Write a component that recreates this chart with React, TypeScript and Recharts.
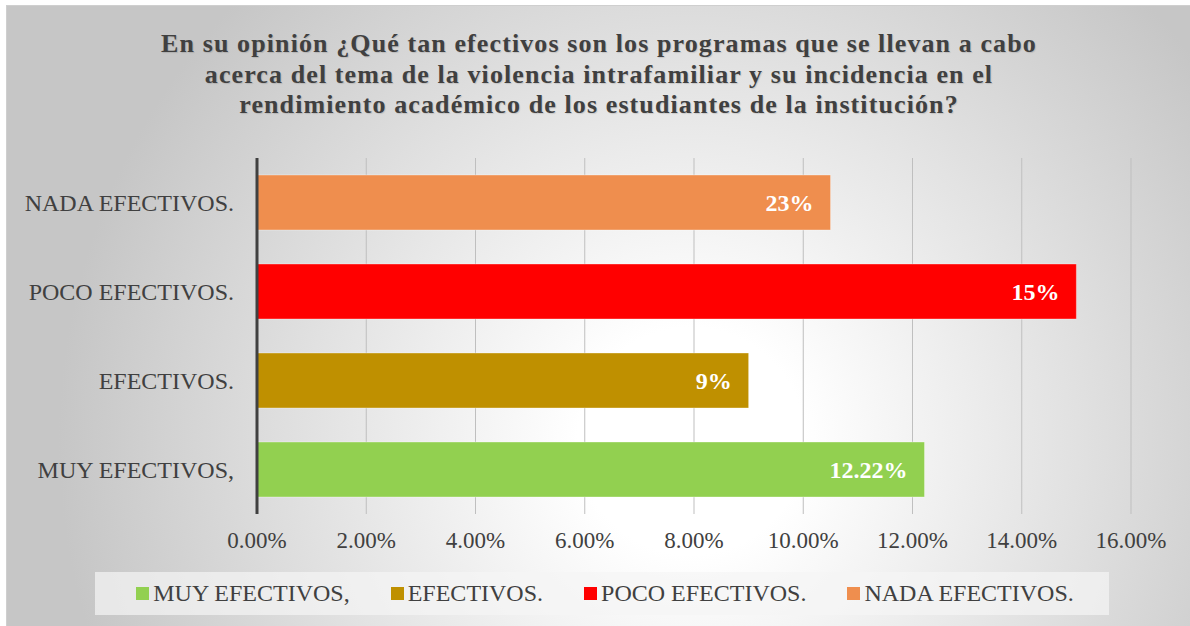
import React from 'react';
import {
  BarChart,
  Bar,
  XAxis,
  YAxis,
  CartesianGrid,
  Cell,
  LabelList,
} from 'recharts';

// bottom-to-top order, as in the legend
const categories = ['MUY EFECTIVOS,', 'EFECTIVOS.', 'POCO EFECTIVOS.', 'NADA EFECTIVOS.'];
const values = [12.22, 9, 15, 10.5];
const valueLabels = ['12.22%', '9%', '15%', '23%'];
const barColors = ['#92D050', '#BF9000', '#FF0000', '#EF8E4E'];
const xTicks = [0, 2, 4, 6, 8, 10, 12, 14, 16];

const titleLines = [
  'En su opinión ¿Qué tan efectivos son los programas que se llevan a cabo',
  'acerca del tema de la violencia intrafamiliar y su incidencia en el',
  'rendimiento académico de los estudiantes de la institución?',
];

const FONT = '"Liberation Serif", "Times New Roman", serif';
const TEXT = '#404040';

const data = categories.map((name, i) => ({
  name,
  value: values[i],
  label: valueLabels[i],
}));

export default function App() {
  return (
    <div
      style={{
        position: 'absolute',
        left: 0,
        top: 0,
        width: 1190,
        height: 626,
        overflow: 'hidden',
        background: '#fff',
        fontFamily: FONT,
      }}
    >
      {/* chart frame with radial gradient */}
      <div
        style={{
          position: 'absolute',
          left: 6,
          top: 5,
          width: 1200,
          height: 640,
          borderTop: '1px solid #cfcfcf',
          borderLeft: '1px solid #cfcfcf',
          background:
            'radial-gradient(circle at 57% 68%, #ffffff 0%, #ffffff 14%, #c6c6c6 78%)',
        }}
      />

      <div
        style={{
          position: 'absolute',
          left: 0,
          top: 29,
          width: 1198,
          textAlign: 'center',
          fontFamily: FONT,
          fontWeight: 'bold',
          fontSize: 26,
          letterSpacing: 1.1,
          lineHeight: '30.5px',
          color: TEXT,
          textShadow: '1px 1px 1px rgba(0,0,0,0.12)',
        }}
      >
        {titleLines.map((line) => (
          <div key={line}>{line}</div>
        ))}
      </div>

      <div style={{ position: 'absolute', left: 0, top: 0 }}>
        <BarChart
          width={1190}
          height={626}
          data={data}
          layout="vertical"
          margin={{ top: 158, right: 59, bottom: 72, left: 0 }}
        >
          <CartesianGrid horizontal={false} stroke="#bfbfbf" />
          <XAxis
            type="number"
            domain={[0, 16]}
            ticks={xTicks}
            height={40}
            axisLine={false}
            tickLine={false}
            tickSize={0}
            tickMargin={18}
            tickFormatter={(v) => `${Number(v).toFixed(2)}%`}
            tick={{ fill: TEXT, fontSize: 23, fontFamily: FONT }}
          />
          <YAxis
            type="category"
            dataKey="name"
            reversed
            width={257}
            tickLine={false}
            tickSize={0}
            tickMargin={23}
            axisLine={{ stroke: '#404040', strokeWidth: 3 }}
            tick={{ fill: TEXT, fontSize: 24, fontFamily: FONT }}
          />
          <Bar dataKey="value" barSize={55} isAnimationActive={false}>
            {data.map((entry, index) => (
              <Cell
                key={`cell-${index}`}
                fill={barColors[index]}
                stroke="rgba(255,255,255,0.35)"
                strokeWidth={1}
              />
            ))}
            <LabelList
              dataKey="label"
              position="insideRight"
              offset={17}
              fill="#ffffff"
              style={{ fontSize: 24, fontWeight: 'bold', fontFamily: FONT }}
            />
          </Bar>
        </BarChart>
      </div>

      {/* legend */}
      <div
        style={{
          position: 'absolute',
          left: 95,
          top: 572,
          width: 1014,
          height: 43,
          background: 'rgba(245,245,245,0.7)',
          display: 'flex',
          alignItems: 'center',
          justifyContent: 'center',
          gap: 41,
          fontSize: 24,
          color: TEXT,
          paddingLeft: 6,
          boxSizing: 'border-box',
        }}
      >
        {categories.map((name, i) => (
          <div key={name} style={{ display: 'flex', alignItems: 'center' }}>
            <span
              style={{
                display: 'inline-block',
                width: 13,
                height: 13,
                background: barColors[i],
                marginRight: 4,
              }}
            />
            <span>{name}</span>
          </div>
        ))}
      </div>
    </div>
  );
}
